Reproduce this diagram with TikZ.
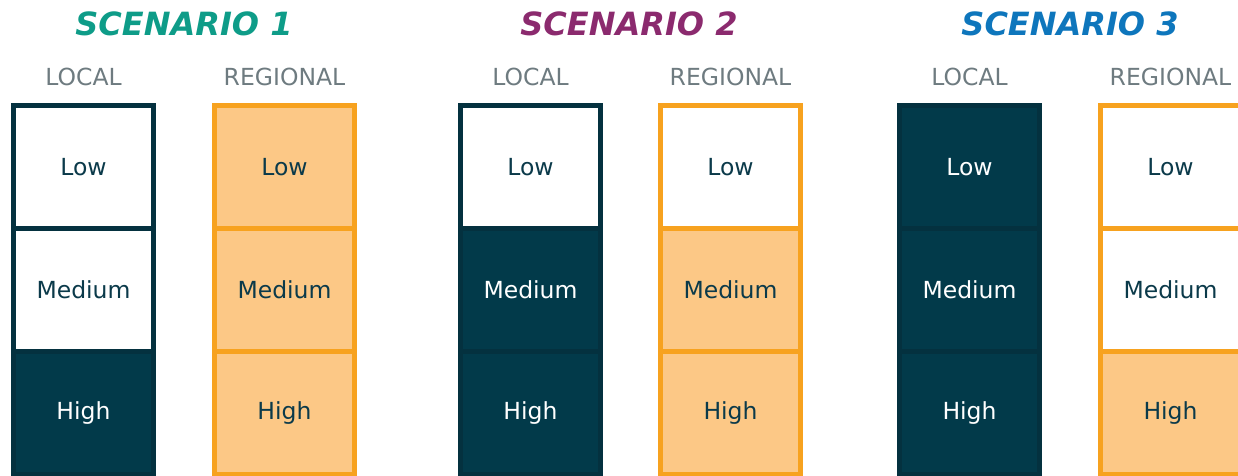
\documentclass[tikz,border=0pt]{standalone}
\usepackage{fontspec}
\setmainfont{DejaVu Sans}
\definecolor{darkteal}{HTML}{023A4A}
\definecolor{darkedge}{HTML}{04313F}
\definecolor{textdark}{HTML}{0B3A4A}
\definecolor{orangeedge}{HTML}{F7A21F}
\definecolor{orangefill}{HTML}{FCC886}
\definecolor{headgray}{HTML}{6E7B80}
\definecolor{sone}{HTML}{0E9C88}
\definecolor{stwo}{HTML}{8B2A6E}
\definecolor{sthree}{HTML}{0E76BC}
\begin{document}
\begin{tikzpicture}[x=1bp,y=-1bp,
  cell/.style={rectangle, line width=5bp, minimum width=140bp, minimum height=123bp, inner sep=0pt, outer sep=0pt,
    font=\fontsize{23.5bp}{28bp}\selectfont},
  localw/.style={cell, draw=darkedge, fill=white, text=textdark},
  locald/.style={cell, draw=darkedge, fill=darkteal, text=white},
  regw/.style={cell, draw=orangeedge, fill=white, text=textdark},
  rego/.style={cell, draw=orangeedge, fill=orangefill, text=textdark},
  colhead/.style={text=headgray, font=\fontsize{23.5bp}{28bp}\selectfont},
  title/.style={font=\fontsize{32bp}{38bp}\selectfont\bfseries\itshape}]
\useasboundingbox (0,0) rectangle (1238,476);
\clip (0,0) rectangle (1238,476);
% titles
\node[title, text=sone] (t1) at (184,24) {SCENARIO 1};
\node[title, text=stwo] (t2) at (629,24) {SCENARIO 2};
\node[title, text=sthree] (t3) at (1070,24) {SCENARIO 3};
% headers
\node[colhead] (h1l) at (83.5,77) {LOCAL};
\node[colhead] (h1r) at (284.5,77) {REGIONAL};
\node[colhead] (h2l) at (530.5,77) {LOCAL};
\node[colhead] (h2r) at (730.5,77) {REGIONAL};
\node[colhead] (h3l) at (969.5,77) {LOCAL};
\node[colhead] (h3r) at (1170.5,77) {REGIONAL};
% Scenario 1
\node[localw] (a1) at (83.5,167) {Low};
\node[localw] (a2) at (83.5,290) {Medium};
\node[locald] (a3) at (83.5,413) {High};
\node[rego] (b1) at (284.5,167) {Low};
\node[rego] (b2) at (284.5,290) {Medium};
\node[rego] (b3) at (284.5,413) {High};
% Scenario 2
\node[localw] (c1) at (530.5,167) {Low};
\node[locald] (c2) at (530.5,290) {Medium};
\node[locald] (c3) at (530.5,413) {High};
\node[regw] (d1) at (730.5,167) {Low};
\node[rego] (d2) at (730.5,290) {Medium};
\node[rego] (d3) at (730.5,413) {High};
% Scenario 3
\node[locald] (e1) at (969.5,167) {Low};
\node[locald] (e2) at (969.5,290) {Medium};
\node[locald] (e3) at (969.5,413) {High};
\node[regw] (f1) at (1170.5,167) {Low};
\node[regw] (f2) at (1170.5,290) {Medium};
\node[rego] (f3) at (1170.5,413) {High};
\end{tikzpicture}
\end{document}
